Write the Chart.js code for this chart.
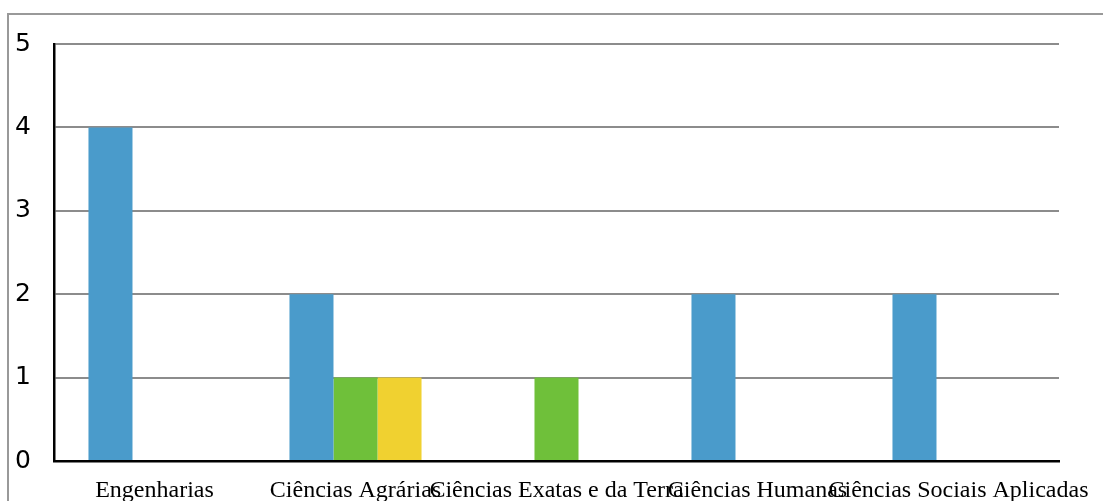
<!DOCTYPE html>
<html>
<head>
<meta charset="utf-8">
<script src="https://cdn.jsdelivr.net/npm/chart.js@4/dist/chart.umd.min.js"></script>
<style>
  html, body { margin: 0; padding: 0; background: #fff; overflow: hidden; }
  #wrap { position: relative; width: 1103px; height: 501px; }
  #frame {
    position: absolute; left: 7px; top: 13px; width: 1110px; height: 520px;
    border-top: 2px solid #999; border-left: 2px solid #999; box-sizing: border-box;
  }
  canvas { position: absolute; left: 0; top: 0; }
</style>
</head>
<body>
<div id="wrap">
  <div id="frame"></div>
  <canvas id="chart" width="1103" height="501"></canvas>
</div>
<script>
// categories and series
const categories = [
  "Engenharias",
  "Ciências Agrárias",
  "Ciências Exatas e da Terra",
  "Ciências Humanas",
  "Ciências Sociais Aplicadas",
];
const seriesBlue = [4, 2, 0, 2, 2];
const seriesGreen = [0, 1, 1, 0, 0];
const seriesYellow = [0, 1, 0, 0, 0];
const yTicks = [0, 1, 2, 3, 4, 5];

const ctx = document.getElementById("chart").getContext("2d");
new Chart(ctx, {
  type: "bar",
  data: {
    labels: categories,
    datasets: [
      { label: "s1", data: seriesBlue, backgroundColor: "#4a9bcb", borderWidth: 0 },
      { label: "s2", data: seriesGreen, backgroundColor: "#6fc03a", borderWidth: 0 },
      { label: "s3", data: seriesYellow, backgroundColor: "#f0d130", borderWidth: 0 },
    ],
  },
  options: {
    responsive: false,
    animation: false,
    layout: { padding: { top: 44, right: 44, left: 0, bottom: 0 } },
    plugins: { legend: { display: false }, tooltip: { enabled: false } },
    datasets: { bar: { categoryPercentage: 0.657, barPercentage: 1.0 } },
    scales: {
      x: {
        grid: { display: false, drawTicks: false },
        border: { display: true, color: "#000", width: 2.5 },
        ticks: {
          autoSkip: false,
          maxRotation: 0,
          minRotation: 0,
          padding: 15,
          color: "#000",
          font: { family: "Liberation Serif", size: 24 },
        },
        afterFit: (scale) => {
          scale.height = 40;
          scale.paddingLeft = 0;
          scale.paddingRight = 0;
        },
      },
      y: {
        min: 0,
        max: 5,
        afterBuildTicks: (scale) => { scale.ticks = yTicks.map((v) => ({ value: v })); },
        grid: {
          drawTicks: false,
          lineWidth: 2,
          color: (c) => (c.tick && c.tick.value === 0 ? "#000" : "#8c8c8c"),
        },
        border: { display: true, color: "#000", width: 2.5 },
        ticks: {
          padding: 23,
          color: "#000",
          font: { family: "DejaVu Sans", size: 25 },
        },
        afterFit: (scale) => {
          scale.width = 54;
          scale.paddingTop = 0;
          scale.paddingBottom = 0;
        },
      },
    },
  },
});
</script>
</body>
</html>
